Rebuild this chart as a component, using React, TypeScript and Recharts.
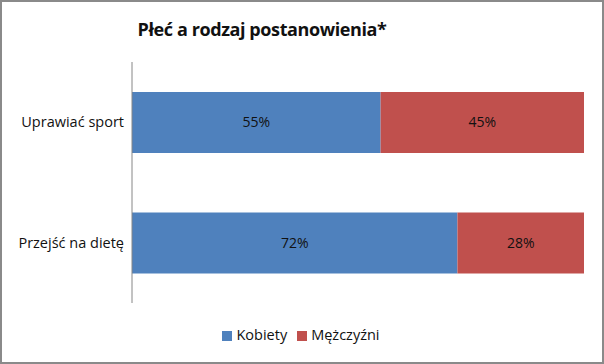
import { Bar, BarChart, LabelList, Legend, XAxis, YAxis } from "recharts";

const categories = ["Uprawiać sport", "Przejść na dietę"];
const kobiety = [55, 72];
const mezczyzni = [45, 28];

const chartData = categories.map((name, i) => ({
  name,
  Kobiety: kobiety[i],
  Mężczyźni: mezczyzni[i],
}));

const font = "'Open Sans', 'Noto Sans', sans-serif";

export default function App() {
  return (
    <div
      style={{
        position: "absolute",
        left: 0,
        top: 0,
        width: 604,
        height: 364,
        boxSizing: "border-box",
        border: "2px solid #8a8a8a",
        background: "#fff",
        fontFamily: font,
      }}
    >
      <div
        style={{
          position: "absolute",
          top: 15,
          left: 0,
          width: 520,
          textAlign: "center",
          fontSize: 18,
          fontWeight: 700,
          color: "#111",
          letterSpacing: -0.4,
        }}
      >
        Płeć a rodzaj postanowienia*
      </div>
      <div style={{ position: "absolute", left: -2, top: -2 }}>
        <BarChart
          width={604}
          height={364}
          data={chartData}
          layout="vertical"
          margin={{ top: 62, right: 20, left: 0, bottom: 42 }}
          barSize={61}
        >
          <XAxis type="number" domain={[0, 100]} hide />
          <YAxis
            type="category"
            dataKey="name"
            width={132}
            axisLine={{ stroke: "#868686" }}
            tickLine={false}
            tick={{ fill: "#111", fontSize: 14.5, fontFamily: font }}
          />
          <Legend
            verticalAlign="bottom"
            iconType="square"
            iconSize={10}
            wrapperStyle={{ top: 325, left: 14, fontSize: 14.5, fontFamily: font, color: "#111" }}
            formatter={(v) => <span style={{ color: "#111" }}>{v}</span>}
          />
          <Bar dataKey="Kobiety" stackId="a" fill="#4f81bd" isAnimationActive={false}>
            <LabelList
              dataKey="Kobiety"
              position="center"
              formatter={(v: number) => `${v}%`}
              style={{ fill: "#111", fontSize: 14, fontFamily: font }}
            />
          </Bar>
          <Bar dataKey="Mężczyźni" stackId="a" fill="#c0504d" isAnimationActive={false}>
            <LabelList
              dataKey="Mężczyźni"
              position="center"
              formatter={(v: number) => `${v}%`}
              style={{ fill: "#111", fontSize: 14, fontFamily: font }}
            />
          </Bar>
        </BarChart>
      </div>
    </div>
  );
}
